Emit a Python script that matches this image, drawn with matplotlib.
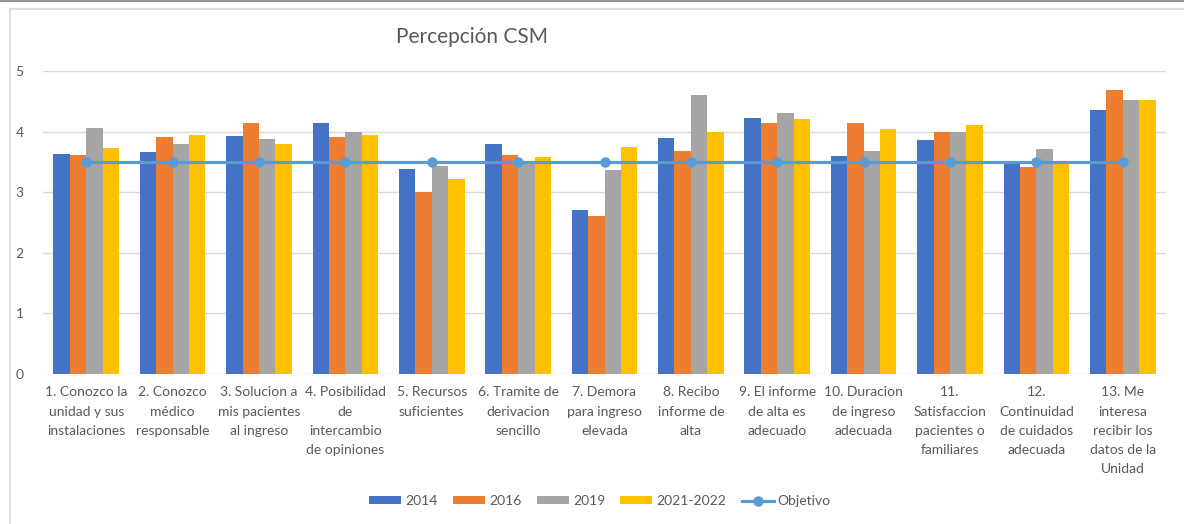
import matplotlib
matplotlib.use("Agg")
import matplotlib.pyplot as plt
import numpy as np
from matplotlib.lines import Line2D

categories = [
    "1. Conozco la\nunidad y sus\ninstalaciones",
    "2. Conozco\nmédico\nresponsable",
    "3. Solucion a\nmis pacientes\nal ingreso",
    "4. Posibilidad\nde\nintercambio\nde opiniones",
    "5. Recursos\nsuficientes",
    "6. Tramite de\nderivacion\nsencillo",
    "7. Demora\npara ingreso\nelevada",
    "8. Recibo\ninforme de\nalta",
    "9. El informe\nde alta es\nadecuado",
    "10. Duracion\nde ingreso\nadecuada",
    "11.\nSatisfaccion\npacientes o\nfamiliares",
    "12.\nContinuidad\nde cuidados\nadecuada",
    "13. Me\ninteresa\nrecibir los\ndatos de la\nUnidad",
]
series_names = ["2014", "2016", "2019", "2021-2022"]
v2014 = [3.63, 3.67, 3.92, 4.14, 3.39, 3.80, 2.70, 3.89, 4.22, 3.60, 3.86, 3.47, 4.35]
v2016 = [3.62, 3.91, 4.15, 3.91, 3.00, 3.62, 2.61, 3.68, 4.15, 4.15, 4.00, 3.42, 4.69]
v2019 = [4.06, 3.80, 3.87, 4.00, 3.43, 3.52, 3.36, 4.60, 4.31, 3.68, 4.00, 3.72, 4.52]
v2021 = [3.73, 3.95, 3.79, 3.95, 3.21, 3.58, 3.74, 4.00, 4.20, 4.04, 4.11, 3.48, 4.52]
objetivo = [3.5] * 13
yticks = [0, 1, 2, 3, 4, 5]

colors = ["#4472C4", "#ED7D31", "#A5A5A5", "#FFC000"]
line_color = "#5B9BD5"
text_color = "#595959"

plt.rcParams['font.family'] = ['Lato', 'DejaVu Sans']

W, H = 1184, 524
fig = plt.figure(figsize=(W / 100, H / 100), dpi=100)
fig.patch.set_facecolor("white")

ax = fig.add_axes([43 / W, 1 - 374 / H, (1166 - 43) / W, (374 - 71) / H])
x = np.arange(len(categories))
bw = 0.19
all_series = [v2014, v2016, v2019, v2021]
for i, (vals, c, name) in enumerate(zip(all_series, colors, series_names)):
    ax.bar(x + (i - 1.5) * bw, vals, width=bw, color=c, label=name, zorder=2)

ax.plot(x, objetivo, color=line_color, lw=2.3, marker="o", markersize=6.5,
        label="Objetivo", zorder=3)

ax.set_xlim(-0.5, len(categories) - 0.5)
ax.set_ylim(0, 5)
ax.set_yticks(yticks)
ax.yaxis.grid(True, color="#D9D9D9", lw=1.0, zorder=0)
ax.set_axisbelow(True)
for s in ax.spines.values():
    s.set_visible(False)
ax.tick_params(axis="both", length=0, colors=text_color, labelsize=10)
ax.tick_params(axis="y", pad=14)
ax.set_xticks(x)
ax.set_xticklabels(categories, linespacing=1.72, va="top", ha="center")
ax.tick_params(axis="x", pad=9)

fig.text(472 / W, 1 - 37 / H, "Percepción CSM", ha="center", va="center",
         fontsize=15, color=text_color)

handles, labels = ax.get_legend_handles_labels()
order = [1, 2, 3, 4, 0]
leg = fig.legend([handles[i] for i in order], [labels[i] for i in order],
                 loc="center", bbox_to_anchor=(600 / W, 1 - 501 / H), ncol=5,
                 frameon=False, fontsize=10, handlelength=2.3, handleheight=0.5,
                 columnspacing=1.1, handletextpad=0.3)
for t in leg.get_texts():
    t.set_color(text_color)

# frame lines
fig.add_artist(Line2D([0, 1], [1 - 0.5 / H, 1 - 0.5 / H], transform=fig.transFigure,
                      color="#7F7F7F", lw=1.2))
fig.add_artist(Line2D([9.5 / W, 1], [1 - 8.5 / H, 1 - 8.5 / H], transform=fig.transFigure,
                      color="#D9D9D9", lw=1.2))
fig.add_artist(Line2D([9.5 / W, 9.5 / W], [0, 1 - 8.5 / H], transform=fig.transFigure,
                      color="#D9D9D9", lw=1.2))

fig.savefig("out.png", dpi=100)
